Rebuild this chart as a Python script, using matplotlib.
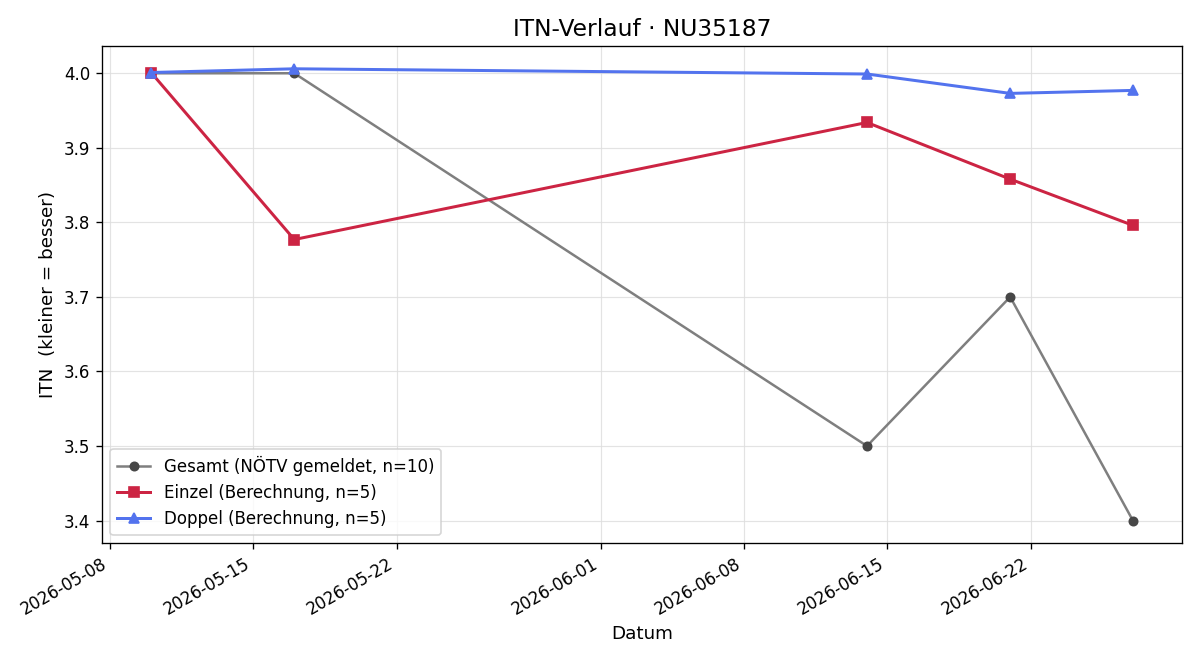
import matplotlib
matplotlib.use("Agg")
import matplotlib.pyplot as plt
import matplotlib.dates as mdates
import numpy as np

# Daten
daten = np.array(["2026-05-10", "2026-05-17", "2026-06-14", "2026-06-21", "2026-06-27"], dtype="datetime64[D]")
gesamt = [4.0, 4.0, 3.5, 3.7, 3.4]
einzel = [4.001, 3.777, 3.934, 3.858, 3.796]
doppel = [4.001, 4.006, 3.999, 3.973, 3.977]

fig, ax = plt.subplots(figsize=(10, 5.5), dpi=120)

ax.plot(daten, gesamt, marker="o", color="#7f7f7f", linewidth=1.5,
        markerfacecolor="#474747", markeredgecolor="#474747", markersize=5,
        label="Gesamt (NÖTV gemeldet, n=10)")
ax.plot(daten, einzel, marker="s", color="#cc2443", linewidth=1.8, markersize=6,
        label="Einzel (Berechnung, n=5)")
ax.plot(daten, doppel, marker="^", color="#5373ee", linewidth=1.8, markersize=6,
        label="Doppel (Berechnung, n=5)")

ax.set_title("ITN-Verlauf · NU35187", fontsize=14)
ax.set_xlabel("Datum", fontsize=11)
ax.set_ylabel("ITN  (kleiner = besser)", fontsize=11)
ax.grid(True, color="#dddddd", linewidth=0.7, alpha=0.8)
ax.legend(loc="lower left")
ax.xaxis.set_major_formatter(mdates.DateFormatter("%Y-%m-%d"))

fig.autofmt_xdate()
fig.subplots_adjust(left=0.085, right=0.985, top=0.930, bottom=0.177)
fig.savefig("out.png")
